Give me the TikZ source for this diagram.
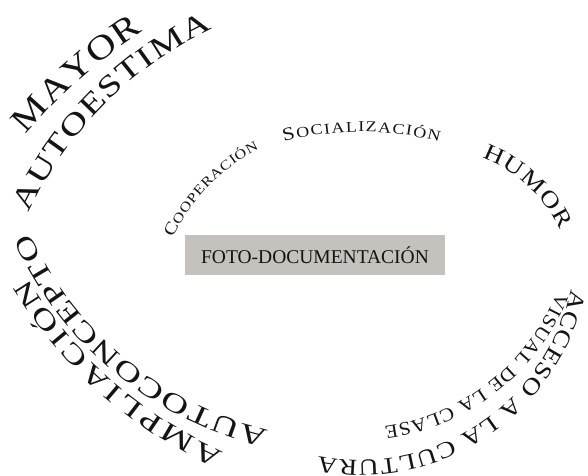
\documentclass[tikz,border=0pt]{standalone}
\usepackage{fontspec}
\setmainfont{Liberation Serif}
\newfontfamily\wideD[FakeStretch=1.1]{Liberation Serif}
\newfontfamily\wideA[FakeStretch=1.2]{Liberation Serif}
\newfontfamily\wideB[FakeStretch=1.3]{Liberation Serif}
\newfontfamily\wideC[FakeStretch=1.4]{Liberation Serif}
\usetikzlibrary{decorations.text}
\definecolor{boxgray}{RGB}{197,193,188}
\definecolor{ink}{RGB}{20,20,20}
\tikzset{
  curved/.style n args={3}{decorate,decoration={text along path,text color=ink,
      text align={fit to path},text={|#1\fontsize{#2}{#2}\selectfont|#3}}},
  centerbox/.style={fill=boxgray,minimum width=260pt,minimum height=40pt,inner sep=0pt,
      text=ink,font=\fontsize{19.5}{19.5}\selectfont}
}
\begin{document}
\begin{tikzpicture}[x=1pt,y=1pt]
\useasboundingbox (0,0) rectangle (588,-475);
% centre box
\node[centerbox] (foto) at (315,-255) {FOTO-DOCUMENTACIÓN};
% upper left
\path[curved={\wideA}{34}{MAYOR}] (26,-135) arc[start angle=140,end angle=123,radius=530];
\path[curved={\wideB}{30}{AUTOESTIMA}] (29,-213) arc[start angle=155,end angle=115,radius=380];
% inner small texts
\path[curved={\wideA}{17}{C|\wideA\fontsize{13.6}{13.6}\selectfont|OOPERACIÓN}] (173,-238) arc[start angle=155,end angle=117,radius=190];
\path[curved={\wideA}{18.5}{S|\wideA\fontsize{15}{15}\selectfont|OCIALIZACIÓN}] (284,-142) arc[start angle=105,end angle=75,radius=300];
% right
\path[curved={\wideA}{23}{HUMOR}] (482,-158) arc[start angle=70,end angle=25,radius=139];
\path[curved={\wideA}{23}{ACCESO A LA CULTURA}] (571,-289) arc[start angle=-12,end angle=-101,radius=216];
\path[curved={\wideD}{19}{VISUAL DE LA CLASE}] (557,-292) arc[start angle=-22,end angle=-82,radius=219];
% lower left
\path[curved={\wideC}{27}{AMPLIACIÓN}] (224,-452) arc[start angle=246,end angle=211,radius=436];
\path[curved={\wideC}{27}{AUTOCONCEPTO}] (269,-430) arc[start angle=257,end angle=204,radius=347];
\end{tikzpicture}
\end{document}
